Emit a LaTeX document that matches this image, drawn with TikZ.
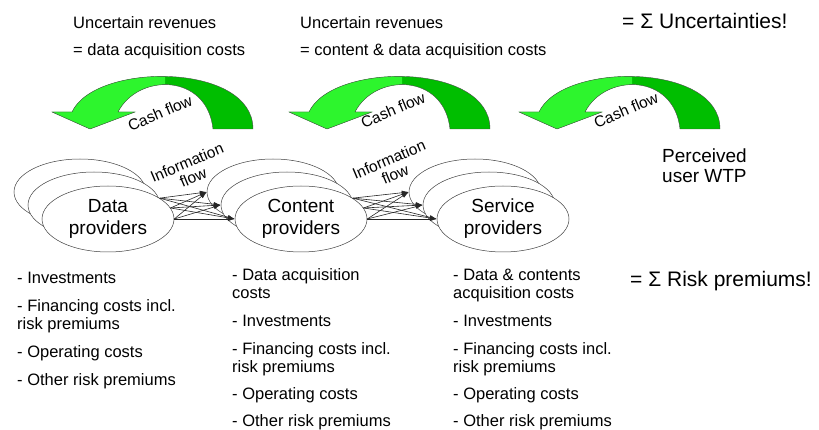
\documentclass[tikz,border=0pt]{standalone}
\usepackage{fontspec}
\setmainfont{Liberation Sans}
\usetikzlibrary{shapes.geometric,arrows.meta}

\definecolor{cashlight}{RGB}{45,245,45}
\definecolor{cashdark}{RGB}{0,190,0}

% crescent arrow of one cash flow, tip at the left
\newcommand{\cashpath}{(253,129) .. controls (253,62) and (95,62) .. (72,112) -- (52,112) -- (90,129) -- (135,112) -- (118,112) .. controls (138,73) and (207,73) .. (213,129) -- cycle}

\begin{document}
\begin{tikzpicture}[x=1pt, y=-1pt,
    provider/.style = {draw=black!75, line width=0.5pt, fill=white, ellipse,
                       minimum width=132pt, minimum height=66pt, inner sep=0pt,
                       align=center, font=\fontsize{19}{22}\selectfont},
    infoarrow/.style = {draw=black!85, line width=0.6pt, -{Latex[length=7pt,width=4.5pt]}},
    flowlabel/.style = {align=center, rotate=23, inner sep=0pt, font=\fontsize{15.5}{16}\selectfont},
    listtext/.style = {align=left, anchor=base west, inner sep=0pt, font=\fontsize{16.5}{18}\selectfont},
    bigtext/.style = {anchor=base west, inner sep=0pt, font=\fontsize{21}{24}\selectfont}]
    \useasboundingbox (0,0) rectangle (819,430);

    % Cash flows
    \foreach \dx in {0,237,467} {
        \begin{scope}[xshift=\dx]
            \fill[cashdark] \cashpath;
            \begin{scope}
                \clip (0,0) rectangle (165,140);
                \fill[cashlight] \cashpath;
            \end{scope}
            \draw[black!70, line width=0.4pt] \cashpath;
        \end{scope}
    }
    \node[flowlabel] (cash1) at (160,113) {Cash flow};
    \node[flowlabel] (cash2) at (393,110) {Cash flow};
    \node[flowlabel] (cash3) at (626,110) {Cash flow};

    % Providers
    \node[provider] (dataA) at (80,192) {};
    \node[provider] (dataB) at (94,205) {};
    \node[provider] (dataC) at (108,219) {Data\\providers};
    \node[provider] (contentA) at (273,192) {};
    \node[provider] (contentB) at (287,205) {};
    \node[provider] (contentC) at (301,219) {Content\\providers};
    \node[provider] (serviceA) at (475,192) {};
    \node[provider] (serviceB) at (489,205) {};
    \node[provider] (serviceC) at (503,219) {Service\\providers};

    % Information flows
    \foreach \s in {22,10,0}
        \foreach \t in {A,B,C} {
            \draw[infoarrow] (dataC.\s) -- (content\t.west);
            \draw[infoarrow] (contentC.\s) -- (service\t.west);
        }
    \node[flowlabel] (info1) at (190,170) {Information\\flow};
    \node[flowlabel] (info2) at (392,167) {Information\\flow};

    % Texts (placed at the baseline of their last line)
    \node[listtext, font=\fontsize{16.5}{27}\selectfont] (rev1) at (73,56) {Uncertain revenues\\= data acquisition costs};
    \node[listtext, font=\fontsize{16.5}{27}\selectfont] (rev2) at (300,56) {Uncertain revenues\\= content \& data acquisition costs};
    \node[bigtext] (sumunc) at (622,29) {= Σ Uncertainties!};
    \node[listtext, font=\fontsize{19}{20}\selectfont] (wtp) at (662,183) {Perceived\\user WTP};
    \node[bigtext] (sumrisk) at (630,287) {= Σ Risk premiums!};

    % Costs
    \node[listtext] (cost1) at (17,385) {- Investments\\[10pt]
        - Financing costs incl.\\risk premiums\\[10pt]
        - Operating costs\\[10pt]
        - Other risk premiums};
    \node[listtext] (cost2) at (232,426) {- Data acquisition\\costs\\[10pt]
        - Investments\\[10pt]
        - Financing costs incl.\\risk premiums\\[9pt]
        - Operating costs\\[9pt]
        - Other risk premiums};
    \node[listtext] (cost3) at (453,426) {- Data \& contents\\acquisition costs\\[10pt]
        - Investments\\[10pt]
        - Financing costs incl.\\risk premiums\\[9pt]
        - Operating costs\\[9pt]
        - Other risk premiums};
\end{tikzpicture}
\end{document}
